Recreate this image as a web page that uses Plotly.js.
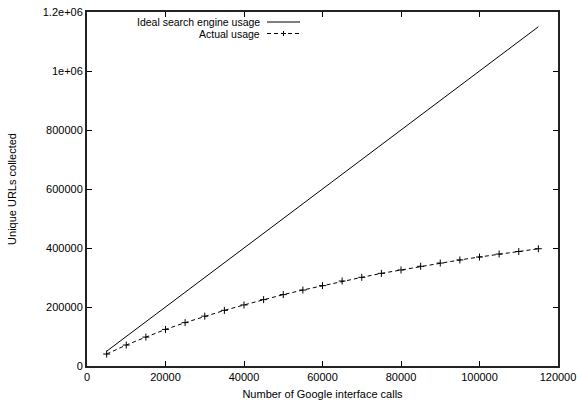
<!DOCTYPE html>
<html>
<head>
<meta charset="utf-8">
<script src="https://cdn.plot.ly/plotly-3.0.1.min.js"></script>
<style>html,body{margin:0;padding:0;background:#fff;}#chart{width:577px;height:401px;}</style>
</head>
<body>
<div id="chart"></div>
<script>
const calls = [5000,10000,15000,20000,25000,30000,35000,40000,45000,50000,55000,60000,65000,70000,75000,80000,85000,90000,95000,100000,105000,110000,115000];
const idealUrls = [50000,100000,150000,200000,250000,300000,350000,400000,450000,500000,550000,600000,650000,700000,750000,800000,850000,900000,950000,1000000,1050000,1100000,1150000];
const actualUrls = [40500,71000,98000,124000,147000,169000,188500,207000,225000,242000,257500,272500,288000,300500,314000,325500,338000,349000,359500,369500,379500,388000,397500];
const seriesNames = ["Ideal search engine usage", "Actual usage"];
const xTickVals = [0,20000,40000,60000,80000,100000,120000];
const xTickText = ["0","20000","40000","60000","80000","100000","120000"];
const yTickVals = [0,200000,400000,600000,800000,1000000,1200000];
const yTickText = ["0","200000","400000","600000","800000","1e+06","1.2e+06"];

const font = {family: "'Liberation Sans', Arial, Helvetica, sans-serif", size: 11, color: "#000"};
const legFont = {family: "'Liberation Sans', Arial, Helvetica, sans-serif", size: 10.5, color: "#000"};

const traces = [
  {x: calls, y: idealUrls, name: seriesNames[0], mode: "lines", type: "scatter",
   line: {color: "#000", width: 1}},
  {x: calls, y: actualUrls, name: seriesNames[1], mode: "lines+markers", type: "scatter",
   line: {color: "#000", width: 1, dash: "4px,3px"},
   marker: {symbol: "cross-thin", size: 5, color: "#000", line: {color: "#000", width: 1}}}
];

// legend drawn gnuplot-style: text right-aligned, sample on the right
const lx0 = (267-87)/471, lx1 = (300-87)/471, ltx = (261-87)/471;
const row1 = 1 - (22-12)/354, row2 = 1 - (33.5-12)/354;
const plusX = (lx0+lx1)/2;
const shapes = [
  {type:"line", xref:"paper", yref:"paper", x0:lx0, x1:lx1, y0:row1, y1:row1, line:{color:"#000", width:1}},
  {type:"line", xref:"paper", yref:"paper", x0:lx0, x1:lx1, y0:row2, y1:row2, line:{color:"#000", width:1, dash:"4px,3px"}},
  {type:"line", xref:"paper", yref:"paper", x0:plusX-2.5/471, x1:plusX+2.5/471, y0:row2, y1:row2, line:{color:"#000", width:1}},
  {type:"line", xref:"paper", yref:"paper", x0:plusX, x1:plusX, y0:row2-2.5/354, y1:row2+2.5/354, line:{color:"#000", width:1}}
];
const annotations = [
  {xref:"paper", yref:"paper", x:ltx, y:row1, xanchor:"right", yanchor:"middle", text:seriesNames[0], showarrow:false, font:legFont, borderpad:0},
  {xref:"paper", yref:"paper", x:ltx, y:row2, xanchor:"right", yanchor:"middle", text:seriesNames[1], showarrow:false, font:legFont, borderpad:0}
];

const axisCommon = {showline:true, linecolor:"#222", linewidth:2, mirror:"allticks", ticks:"inside", ticklen:5, tickcolor:"#000", tickwidth:1, showgrid:false, zeroline:false, tickfont:font, tickmode:"array"};

const layout = {
  width:577, height:401,
  margin:{l:87, r:19, t:12, b:35},
  paper_bgcolor:"#fff", plot_bgcolor:"#fff",
  font: font,
  showlegend:false,
  xaxis: Object.assign({}, axisCommon, {range:[0,120000], tickvals:xTickVals, ticktext:xTickText,
     title:{text:"Number of Google interface calls", font:font, standoff:8}}),
  yaxis: Object.assign({}, axisCommon, {range:[0,1200000], tickvals:yTickVals, ticktext:yTickText,
     title:{text:"Unique URLs collected", font:font, standoff:24}}),
  shapes: shapes,
  annotations: annotations
};

Plotly.newPlot("chart", traces, layout, {staticPlot:true, displayModeBar:false});
</script>
</body>
</html>
